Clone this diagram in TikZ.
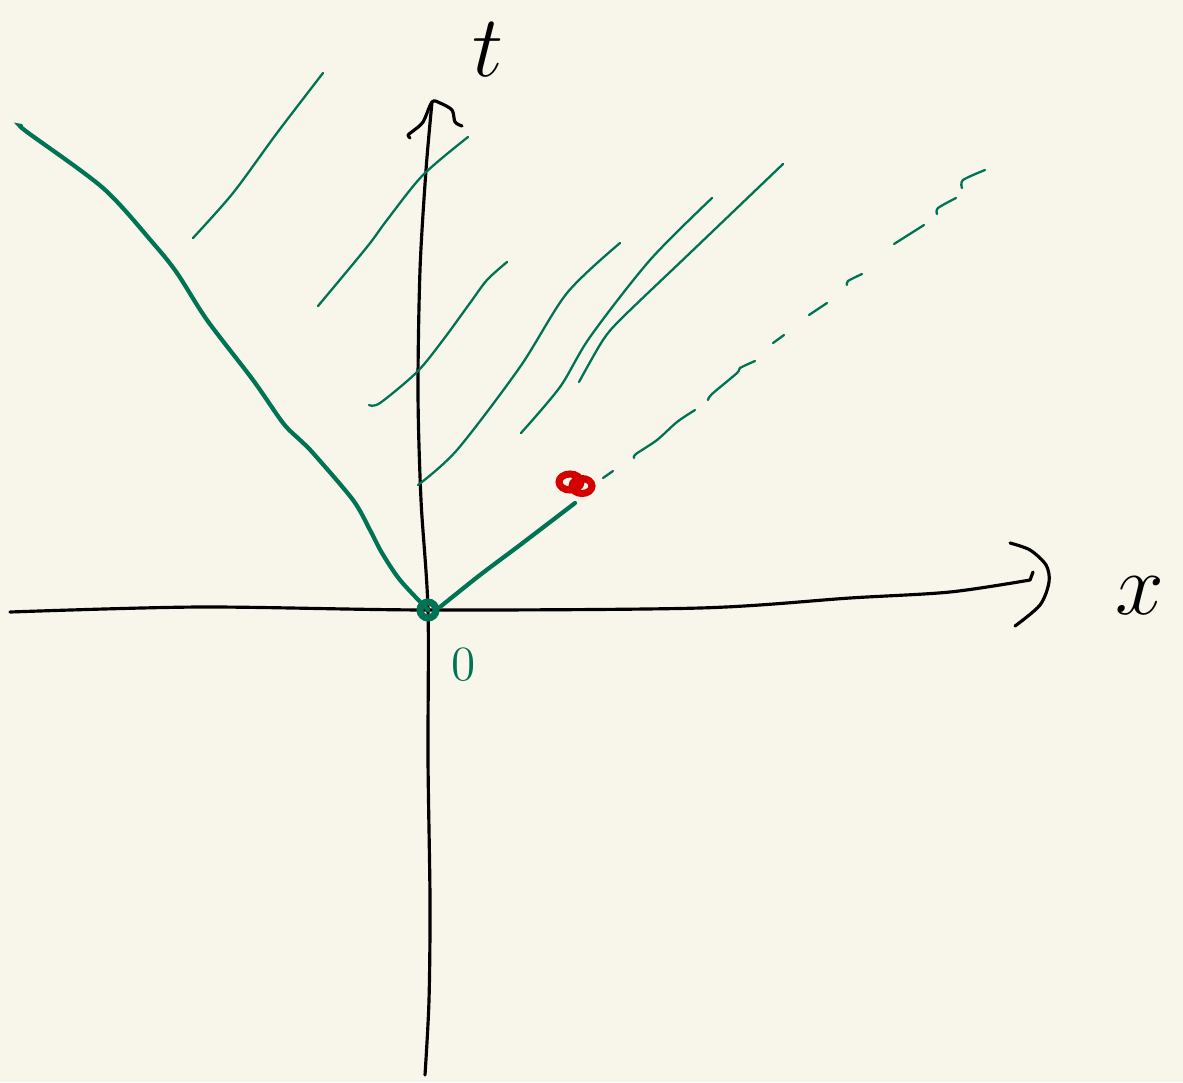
\documentclass[tikz,border=0pt]{standalone}
\usepackage{tikz}
\usetikzlibrary{positioning}

\definecolor{paper}{HTML}{F8F6EA}
\definecolor{ink}{HTML}{007355}
\definecolor{redink}{HTML}{D40000}

\begin{document}
\begin{tikzpicture}[x=0.01cm, y=-0.01cm,
    axis/.style={draw, black, line width=0.9pt, line cap=round, line join=round},
    ray/.style={draw, ink, line width=1.2pt, line cap=round},
    world/.style={draw, ink, line width=0.65pt, line cap=round},
    dashbit/.style={draw, ink, line width=0.65pt, line cap=round},
    lbl/.style={inner sep=0pt, font=\fontsize{36}{36}\selectfont}
]

% Paper
\fill[paper] (0,0) rectangle (1183,1082);
\useasboundingbox (0,0) rectangle (1183,1082);

% Axes
\coordinate (O) at (428,610);
\coordinate (Xend) at (1030,580);
\coordinate (Tend) at (432,102);
\draw[axis] plot[smooth] coordinates {(10,612) (200,607) (O) (700,608) (850,598) (950,592) (Xend)} -- (1033,572);
\draw[axis] plot[smooth] coordinates {(425,1075) (429,1000) (430,900) (428,760) (O) (421,500) (418,393) (420,270) (426,170) (Tend)};

% Hand-drawn arrow heads
\draw[axis] plot[smooth] coordinates {(1010,543) (1030,550) (1046,565) (1049,582) (1040,605) (1015,626)};
\draw[axis] plot[smooth] coordinates {(410,138) (408,135) (413,131) (423,122) (Tend) (440,103) (452,110) (455,122) (462,126)};

% Axis labels
\node[lbl] (tlab) at (488,50) {$t$};
\node[lbl] (xlab) at (1140,596) {$x$};
\node[inner sep=0pt, text=ink, font=\fontsize{14}{14}\selectfont] (olab) at (464,665) {0};

% Origin
\draw[ink, line width=2pt] (O) circle (8);

% Thick worldlines through the origin
\draw[ray] plot[smooth] coordinates {(21,126) (27,132) (103,188) (153,243) (177,273) (207,320) (253,380) (283,423) (300,440) (313,453) (353,500) (370,530) (382,553) (400,580) (O)};
\coordinate (Rend) at (575,503);
\draw[ray] plot[smooth] coordinates {(440,607) (480,575) (520,545) (Rend)};

% Red mark
\draw[redink, line width=2pt] (570,482) ellipse (11 and 8);
\draw[redink, line width=2pt] (582,486) ellipse (10 and 7.5);

% Dashed continuation
\draw[dashbit] (603,478) -- (613,471);
\draw[dashbit] plot[smooth] coordinates {(634,458) (636,454) (657,440) (677,422) (695,410)};
\draw[dashbit] plot[smooth] coordinates {(708,400) (712,394) (737,373) (740,368) (755,361)};
\draw[dashbit] (773,343) -- (784,335);
\draw[dashbit] (809,315) -- (827,303);
\draw[dashbit] plot[smooth] coordinates {(847,285) (848,281) (862,274)};
\draw[dashbit] (894,244) -- (924,225);
\draw[dashbit] plot[smooth] coordinates {(937,214) (938,208) (956,198)};
\draw[dashbit] plot[smooth] coordinates {(962,188) (963,180) (985,170)};

% Thin worldlines
\draw[world] plot[smooth] coordinates {(193,238) (233,193) (277,133) (323,73)};
\draw[world] plot[smooth] coordinates {(318,306) (367,247) (387,220) (423,175) (468,137)};
\draw[world] plot[smooth] coordinates {(369,405) (380,403) (417,372) (443,340) (470,303) (487,280) (507,262)};
\draw[world] plot[smooth] coordinates {(418,485) (457,450) (520,367) (567,293) (620,243)};
\draw[world] plot[smooth] coordinates {(521,433) (560,387) (590,337) (650,260) (712,198)};
\draw[world] plot[smooth] coordinates {(579,382) (603,340) (623,317) (690,253) (783,164)};

\end{tikzpicture}
\end{document}
